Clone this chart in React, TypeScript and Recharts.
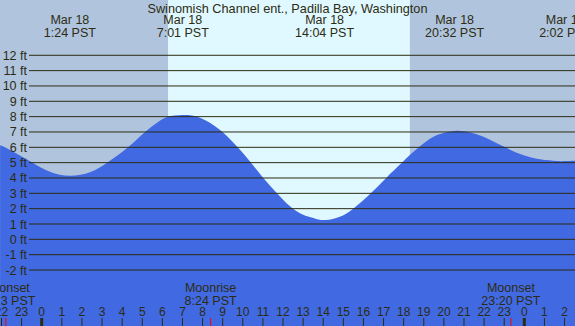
import React from 'react';
import { ComposedChart, Area, XAxis, YAxis, ReferenceArea, ReferenceLine } from 'recharts';

const TITLE = 'Swinomish Channel ent., Padilla Bay, Washington';

// hours relative to midnight Mar 18 (PST) and tide height in feet
const HOURS = [-2.07, -1.82, -1.08, -0.43, 0.41, 1.41, 2.4, 3.25, 4.29, 5.14, 5.72, 6.23, 7.03, 7.87, 8.87, 9.71, 10.36, 11.01, 11.7, 12.35, 13.0, 13.55, 14.09, 14.98, 15.68, 16.33, 17.17, 17.97, 18.31, 19.0, 19.66, 20.55, 21.45, 22.29, 23.13, 23.93, 24.78, 25.61, 26.03, 26.52];
const LEVELS = [6.12, 6.0, 5.46, 4.98, 4.41, 4.15, 4.38, 5.0, 6.0, 7.0, 7.58, 7.98, 8.11, 7.93, 7.13, 6.05, 5.07, 4.02, 3.0, 2.15, 1.6, 1.38, 1.26, 1.56, 2.2, 2.95, 4.05, 5.07, 5.5, 6.26, 6.8, 7.07, 6.92, 6.5, 5.95, 5.5, 5.22, 5.11, 5.1, 5.12];

const FT_TICKS = [-2, -1, 0, 1, 2, 3, 4, 5, 6, 7, 8, 9, 10, 11, 12];
const HOUR_TICKS = [-2, -1, 0, 1, 2, 3, 4, 5, 6, 7, 8, 9, 10, 11, 12, 13, 14, 15, 16, 17, 18, 19, 20, 21, 22, 23, 24, 25, 26];

const TIDE_EVENT_HOURS = [1.4, 7.017, 14.067, 20.533, 26.033];
const TIDE_EVENT_DATES = ['Mar 18', 'Mar 18', 'Mar 18', 'Mar 18', 'Mar 19'];
const TIDE_EVENT_TIMES = ['1:24 PST', '7:01 PST', '14:04 PST', '20:32 PST', '2:02 PST'];

const MOON_EVENT_HOURS = [-1.783, 8.4, 23.333];
const MOON_EVENT_NAMES = ['Moonset', 'Moonrise', 'Moonset'];
const MOON_EVENT_TIMES = ['22:13 PST', '8:24 PST', '23:20 PST'];

const SUNRISE = 6.28;
const SUNSET = 18.31;

const X_DOMAIN: [number, number] = [-2.074, 26.52];
const Y_DOMAIN: [number, number] = [-5.65, 15.605];

const NIGHT = '#b0c4de';
const DAY = '#e0f8ff';
const WATER = '#4169e1';
const FG = '#2c2c12';
const FONT = '"Liberation Sans", Arial, sans-serif';
const GRID_LEFT = 29;

const hourShape = (p: any, h: number) => {
  const x = p.x1;
  const bottom = Math.max(p.y1, p.y2);
  const label = ((h % 24) + 24) % 24;
  const midnight = label === 0;
  return (
    <g>
      <text x={x} y={bottom - 10} textAnchor="middle" fill={FG} fontSize={12} fontFamily={FONT}>{label}</text>
      <line x1={x} x2={x} y1={bottom - 8} y2={bottom} stroke={FG} strokeWidth={midnight ? 3 : 1} />
    </g>
  );
};

const gridShape = (p: any, v: number) => {
  const y = p.y1;
  const xs = Math.min(p.x1, p.x2);
  const xe = Math.max(p.x1, p.x2);
  return (
    <g>
      <line x1={xs + GRID_LEFT} x2={xe} y1={y} y2={y} stroke={FG} strokeWidth={1} />
      <text x={xs + GRID_LEFT - 2} y={y} dy="0.36em" textAnchor="end" fill={FG} fontSize={12.5} fontFamily={FONT}>{`${v} ft`}</text>
    </g>
  );
};

const titleShape = (p: any) => {
  const xs = Math.min(p.x1, p.x2);
  const xe = Math.max(p.x1, p.x2);
  return (
    <text x={(xs + xe) / 2} y={p.y1 + 13} textAnchor="middle" fill={FG} fontSize={12.7} fontFamily={FONT}>{TITLE}</text>
  );
};

const tideShape = (p: any, i: number) => {
  const x = p.x1;
  const top = Math.min(p.y1, p.y2);
  return (
    <g>
      <text x={x} y={top + 24} textAnchor="middle" fill={FG} fontSize={12.5} fontFamily={FONT}>{TIDE_EVENT_DATES[i]}</text>
      <text x={x} y={top + 36.5} textAnchor="middle" fill={FG} fontSize={12.5} fontFamily={FONT}>{TIDE_EVENT_TIMES[i]}</text>
    </g>
  );
};

const moonShape = (p: any, i: number) => {
  const x = p.x1;
  const bottom = Math.max(p.y1, p.y2);
  return (
    <g>
      <text x={x} y={bottom - 34} textAnchor="middle" fill={FG} fontSize={12.5} fontFamily={FONT}>{MOON_EVENT_NAMES[i]}</text>
      <text x={x} y={bottom - 21.5} textAnchor="middle" fill={FG} fontSize={12.5} fontFamily={FONT}>{MOON_EVENT_TIMES[i]}</text>
      <line x1={x} x2={x} y1={bottom - 8} y2={bottom} stroke="#ff0000" strokeWidth={1} />
    </g>
  );
};

export default function App() {
  const data = HOURS.map((h, i) => ({ h, ft: LEVELS[i] }));
  return (
    <div style={{ position: 'absolute', left: 0, top: 0, width: 575, height: 326, background: NIGHT, overflow: 'hidden' }}>
      <ComposedChart width={575} height={326} data={data} margin={{ top: 0, right: 0, bottom: 0, left: 0 }}>
        <XAxis dataKey="h" type="number" domain={X_DOMAIN} allowDataOverflow hide />
        <YAxis type="number" domain={Y_DOMAIN} allowDataOverflow hide />
        <ReferenceArea x1={SUNRISE} x2={SUNSET} y1={Y_DOMAIN[0]} y2={Y_DOMAIN[1]} fill={DAY} fillOpacity={1} stroke="none" />
        <Area dataKey="ft" type="natural" baseValue={Y_DOMAIN[0]} fill={WATER} fillOpacity={1} stroke="none" isAnimationActive={false} dot={false} activeDot={false} />
        {FT_TICKS.map((v) => (
          <ReferenceLine key={`g${v}`} y={v} shape={(p: any) => gridShape(p, v)} />
        ))}
        <ReferenceLine y={Y_DOMAIN[1]} shape={titleShape} />
        {TIDE_EVENT_HOURS.map((h, i) => (
          <ReferenceLine key={`t${i}`} x={h} shape={(p: any) => tideShape(p, i)} />
        ))}
        {HOUR_TICKS.map((h) => (
          <ReferenceLine key={`h${h}`} x={h} shape={(p: any) => hourShape(p, h)} />
        ))}
        {MOON_EVENT_HOURS.map((h, i) => (
          <ReferenceLine key={`m${i}`} x={h} shape={(p: any) => moonShape(p, i)} />
        ))}
      </ComposedChart>
    </div>
  );
}
